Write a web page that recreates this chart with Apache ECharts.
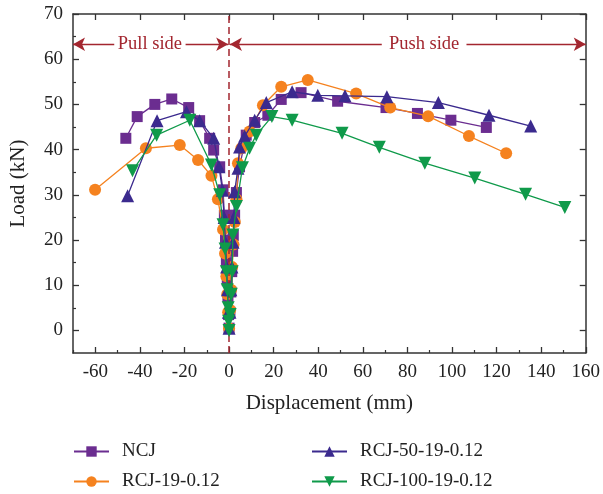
<!DOCTYPE html>
<html>
<head>
<meta charset="utf-8">
<script src="https://cdn.jsdelivr.net/npm/echarts@6/dist/echarts.min.js"></script>
<style>html,body{margin:0;padding:0;background:#fff}#c{width:603px;height:494px}</style>
</head>
<body>
<div id="c"></div>
<script>
const seriesNames = ['NCJ', 'RCJ-19-0.12', 'RCJ-50-19-0.12', 'RCJ-100-19-0.12'];
const xTicks = [-60, -40, -20, 0, 20, 40, 60, 80, 100, 120, 140, 160];
const xMinorTicks = [-70, -50, -30, -10, 10, 30, 50, 70, 90, 110, 130, 150];
const yTicks = [0, 10, 20, 30, 40, 50, 60, 70];
const yMinorTicks = [5, 15, 25, 35, 45, 55, 65];

const ncj = [[-46.3,42.5],[-41.2,47.3],[-33.3,50.0],[-25.7,51.2],[-18.1,49.3],[-13.2,46.4],[-8.7,42.5],[-6.9,39.9],[-4.2,36.2],[-2.7,31.1],[-2.1,25.5],[-1.6,20],[-1.2,15],[-0.8,11],[-0.5,7.5],[-0.2,3.5],[0,0.5],[0.4,4],[0.8,8.5],[1.2,13],[1.6,17.5],[1.9,21],[2.5,25.5],[3.3,30.5],[4.7,36.2],[7.7,43.2],[11.5,46],[17.4,47.6],[23.4,51.1],[32.3,52.6],[48.7,50.7],[70.4,49.3],[84.5,48.0],[99.5,46.5],[115.4,44.9]];
const rcj19 = [[-60.1,31.1],[-37.3,40.3],[-22.1,41.0],[-13.9,37.7],[-7.9,34.2],[-5.0,29.0],[-2.7,22.3],[-1.8,17],[-1.2,12],[-0.8,8],[-0.4,4],[0,0.5],[0.5,4.5],[0.9,9],[1.4,14],[2.0,19],[2.6,24],[3.3,29],[4.0,37.0],[5.5,40.3],[9.2,44.0],[15.2,49.8],[23.4,53.9],[35.3,55.4],[57.0,52.4],[72.3,49.3],[89.3,47.4],[107.6,43.0],[124.3,39.2]];
const rcj50 = [[-45.5,29.8],[-32.3,46.4],[-19.1,48.4],[-13.2,46.4],[-6.9,42.5],[-4.5,36.2],[-3.0,31],[-2.2,25],[-1.6,19.5],[-1.1,14],[-0.7,9],[-0.3,4],[0,0.5],[0.4,4],[0.8,9],[1.3,14],[1.8,19.5],[2.2,25],[2.5,30.7],[4.0,35.9],[4.7,40.6],[7.0,43.0],[11.5,46.5],[16.7,50.4],[28.3,52.8],[39.8,52.0],[52.0,51.9],[70.8,51.7],[93.9,50.4],[116.6,47.6],[135.3,45.2]];
const rcj100 = [[-43.3,35.3],[-32.5,43.2],[-17.6,46.5],[-7.9,36.6],[-4.2,30.0],[-2.7,23.4],[-1.8,18],[-1.2,13],[-0.8,9],[-0.4,5],[-0.2,2],[0,0],[0.5,3.5],[1.0,8],[1.4,13],[1.7,21.1],[3.3,27.4],[6.0,36.0],[9.2,40.3],[12.2,43.2],[19.2,47.3],[28.3,46.5],[50.7,43.6],[67.4,40.5],[87.8,37.0],[110.2,33.7],[133.0,30.1],[150.6,27.2]];

const sideLabels = ['Pull side', 'Push side'];

const FONT = 'Liberation Serif';
const RED = '#A3262F';
const colors = ['#6B2D90', '#F5821F', '#3B2A8E', '#0F9A4A'];
const symbols = ['rect', 'circle', 'triangle', 'triangle'];
const sizes = [11, 12, 13, 13];
const rotates = [0, 0, 0, 180];
const datas = [ncj, rcj19, rcj50, rcj100];

const chart = echarts.init(document.getElementById('c'), null, {renderer: 'canvas'});

const series = seriesNames.map((n, i) => ({
  name: n, type: 'line', data: datas[i],
  symbol: symbols[i], symbolSize: sizes[i], symbolRotate: rotates[i],
  showAllSymbol: true,
  lineStyle: {color: colors[i], width: 1.3},
  itemStyle: {color: colors[i], borderWidth: 0},
  z: 3 + i,
  animation: false
}));

const ay = 63.3;
series[0].markLine = {
  silent: true, animation: false,
  symbol: ['none', 'none'],
  label: {show: false},
  data: [
    [{coord: [0, -5], lineStyle: {color: RED, width: 1.5, type: [7, 4]}}, {coord: [0, 70]}],
    [{coord: [-51.5, ay], symbol: 'none'}, {coord: [-70, ay], symbol: 'arrow'}],
    [{coord: [-19.5, ay], symbol: 'none'}, {coord: [-0.4, ay], symbol: 'arrow'}],
    [{coord: [68.5, ay], symbol: 'none'}, {coord: [0.4, ay], symbol: 'arrow'}],
    [{coord: [106.5, ay], symbol: 'none'}, {coord: [160, ay], symbol: 'arrow'}]
  ],
  symbolSize: [10, 12],
  lineStyle: {color: RED, width: 1.3, type: 'solid'}
};
series[0].markPoint = {
  silent: true, animation: false,
  symbol: 'rect', symbolSize: 1,
  itemStyle: {color: 'rgba(0,0,0,0)'},
  label: {show: true, position: 'inside', formatter: '{b}', color: RED, fontFamily: FONT, fontSize: 18.5},
  data: [
    {name: sideLabels[0], coord: [-35.5, ay]},
    {name: sideLabels[1], coord: [87.5, ay]}
  ]
};

const tickLabel = {fontFamily: FONT, fontSize: 19, color: '#222'};
const legendPos = [[73, 442], [73, 472], [311, 442], [311, 472]];
const legends = seriesNames.map((n, i) => ({
  data: [n], left: legendPos[i][0], top: legendPos[i][1], orient: 'horizontal',
  itemWidth: 35, itemHeight: 13, padding: 0,
  textStyle: {fontFamily: FONT, fontSize: 19, color: '#222', padding: [0, 0, 0, 8]}
}));

const option = {
  backgroundColor: '#fff',
  animation: false,
  grid: {left: 73, right: 17, top: 14, bottom: 141, containLabel: false},
  legend: legends,
  xAxis: [
    {type: 'value', min: -70, max: 160, position: 'bottom',
     name: 'Displacement (mm)', nameLocation: 'middle', nameGap: 40,
     nameTextStyle: {fontFamily: FONT, fontSize: 21, color: '#222'},
     axisLine: {show: true, onZero: false, lineStyle: {color: '#333', width: 1.5}},
     axisTick: {show: true, inside: true, length: 6, customValues: xTicks, lineStyle: {color: '#333', width: 1.3}},
     axisLabel: {customValues: xTicks, margin: 10, ...tickLabel},
     splitLine: {show: false}},
    {type: 'value', min: -70, max: 160, position: 'bottom',
     axisLine: {show: false, onZero: false},
     axisTick: {show: true, inside: true, length: 3, customValues: xMinorTicks, lineStyle: {color: '#333', width: 1.2}},
     axisLabel: {show: false}, splitLine: {show: false}},
    {type: 'value', min: -70, max: 160, position: 'top',
     axisLine: {show: true, onZero: false, lineStyle: {color: '#333', width: 1.5}},
     axisTick: {show: true, inside: true, length: 6, customValues: xTicks, lineStyle: {color: '#333', width: 1.3}},
     axisLabel: {show: false}, splitLine: {show: false}}
  ],
  yAxis: [
    {type: 'value', min: -5, max: 70, position: 'left',
     name: 'Load (kN)', nameLocation: 'middle', nameGap: 44, nameRotate: 90,
     nameTextStyle: {fontFamily: FONT, fontSize: 21, color: '#222'},
     axisLine: {show: true, onZero: false, lineStyle: {color: '#333', width: 1.5}},
     axisTick: {show: true, inside: true, length: 6, customValues: yTicks, lineStyle: {color: '#333', width: 1.3}},
     axisLabel: {customValues: yTicks, margin: 10, ...tickLabel},
     splitLine: {show: false}},
    {type: 'value', min: -5, max: 70, position: 'left',
     axisLine: {show: false, onZero: false},
     axisTick: {show: true, inside: true, length: 3, customValues: yMinorTicks, lineStyle: {color: '#333', width: 1.2}},
     axisLabel: {show: false}, splitLine: {show: false}},
    {type: 'value', min: -5, max: 70, position: 'right',
     axisLine: {show: true, onZero: false, lineStyle: {color: '#333', width: 1.5}},
     axisTick: {show: true, inside: true, length: 6, customValues: yTicks, lineStyle: {color: '#333', width: 1.3}},
     axisLabel: {show: false}, splitLine: {show: false}}
  ],
  series: series
};
chart.setOption(option);
</script>
</body>
</html>
